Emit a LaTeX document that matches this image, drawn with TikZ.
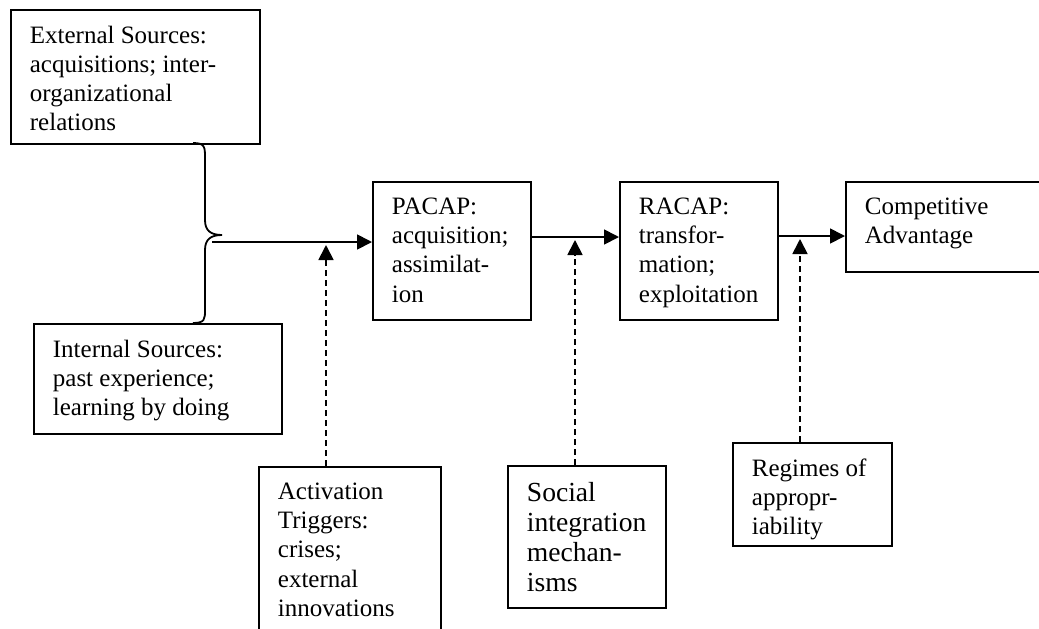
\documentclass[tikz,border=0pt]{standalone}
\usepackage{fontspec}
\setmainfont{Liberation Serif}
\usepackage{tikz}
\usetikzlibrary{arrows.meta, calc}

\newcommand{\cellbox}[3]{\parbox[t][#2][t]{#1}{\raggedright #3}}

\begin{document}
\begin{tikzpicture}[
  x=0.5pt, y=-0.5pt,
  block/.style={rectangle, draw, line width=0.9pt, anchor=north west, inner xsep=9.5pt, inner ysep=8pt, font=\fontsize{12.5pt}{14.6pt}\selectfont},
  flow/.style={line width=0.9pt, -{Triangle[length=7.5pt,width=7.5pt]}},
  hint/.style={flow, dash pattern=on 3pt off 2pt}
]
\useasboundingbox (0,0) rectangle (1039,628);

\node[block] (ExtSrc) at (10,9) {\cellbox{105.5pt}{51pt}{External Sources:\\acquisitions; inter-\\organizational\\relations}};
\node[block] (IntSrc) at (33,323) {\cellbox{105pt}{39pt}{Internal Sources:\\past experience;\\learning by doing}};
\node[block] (PACAP) at (372,181) {\cellbox{60pt}{53pt}{PACAP:\\acquisition;\\assimilat-\\ion}};
\node[block] (RACAP) at (619,181) {\cellbox{60pt}{53pt}{RACAP:\\transfor-\\mation;\\exploitation}};
\node[block] (CompAdv) at (845,181) {\cellbox{78.5pt}{29pt}{Competitive\\Advantage}};
\node[block] (Triggers) at (258,466) {\cellbox{72pt}{74pt}{Activation\\Triggers:\\crises;\\external\\innovations}};
\node[block, font=\fontsize{13.8pt}{15pt}\selectfont] (SocInt) at (507,465) {\cellbox{60pt}{55pt}{Social\\integration\\mechan-\\isms}};
\node[block] (Regimes) at (732,442) {\cellbox{60.5pt}{35.5pt}{Regimes of\\appropr-\\iability}};

% brace joining the two sources
\draw[line width=0.9pt] (193,143) .. controls (205,143) and (205,147) .. (205,158) -- (205,220)
  .. controls (205,230) and (210,235) .. (222,235) .. controls (210,235) and (205,240) .. (205,250)
  -- (205,310) .. controls (205,319) and (205,323) .. (193,323);

\coordinate (Join) at (212,242);
\coordinate (T1) at (326,245);
\coordinate (T2) at (575,240);
\coordinate (T3) at (800,239);

\draw[flow] (Join) -- (Join -| PACAP.west);
\draw[flow] (PACAP.east |- 0,237) -- (RACAP.west |- 0,237);
\draw[flow] (RACAP.east |- 0,236) -- (CompAdv.west |- 0,236);

\draw[hint] (Triggers.north -| T1) -- (T1);
\draw[hint] (SocInt.north -| T2) -- (T2);
\draw[hint] (Regimes.north -| T3) -- (T3);
\end{tikzpicture}
\end{document}
